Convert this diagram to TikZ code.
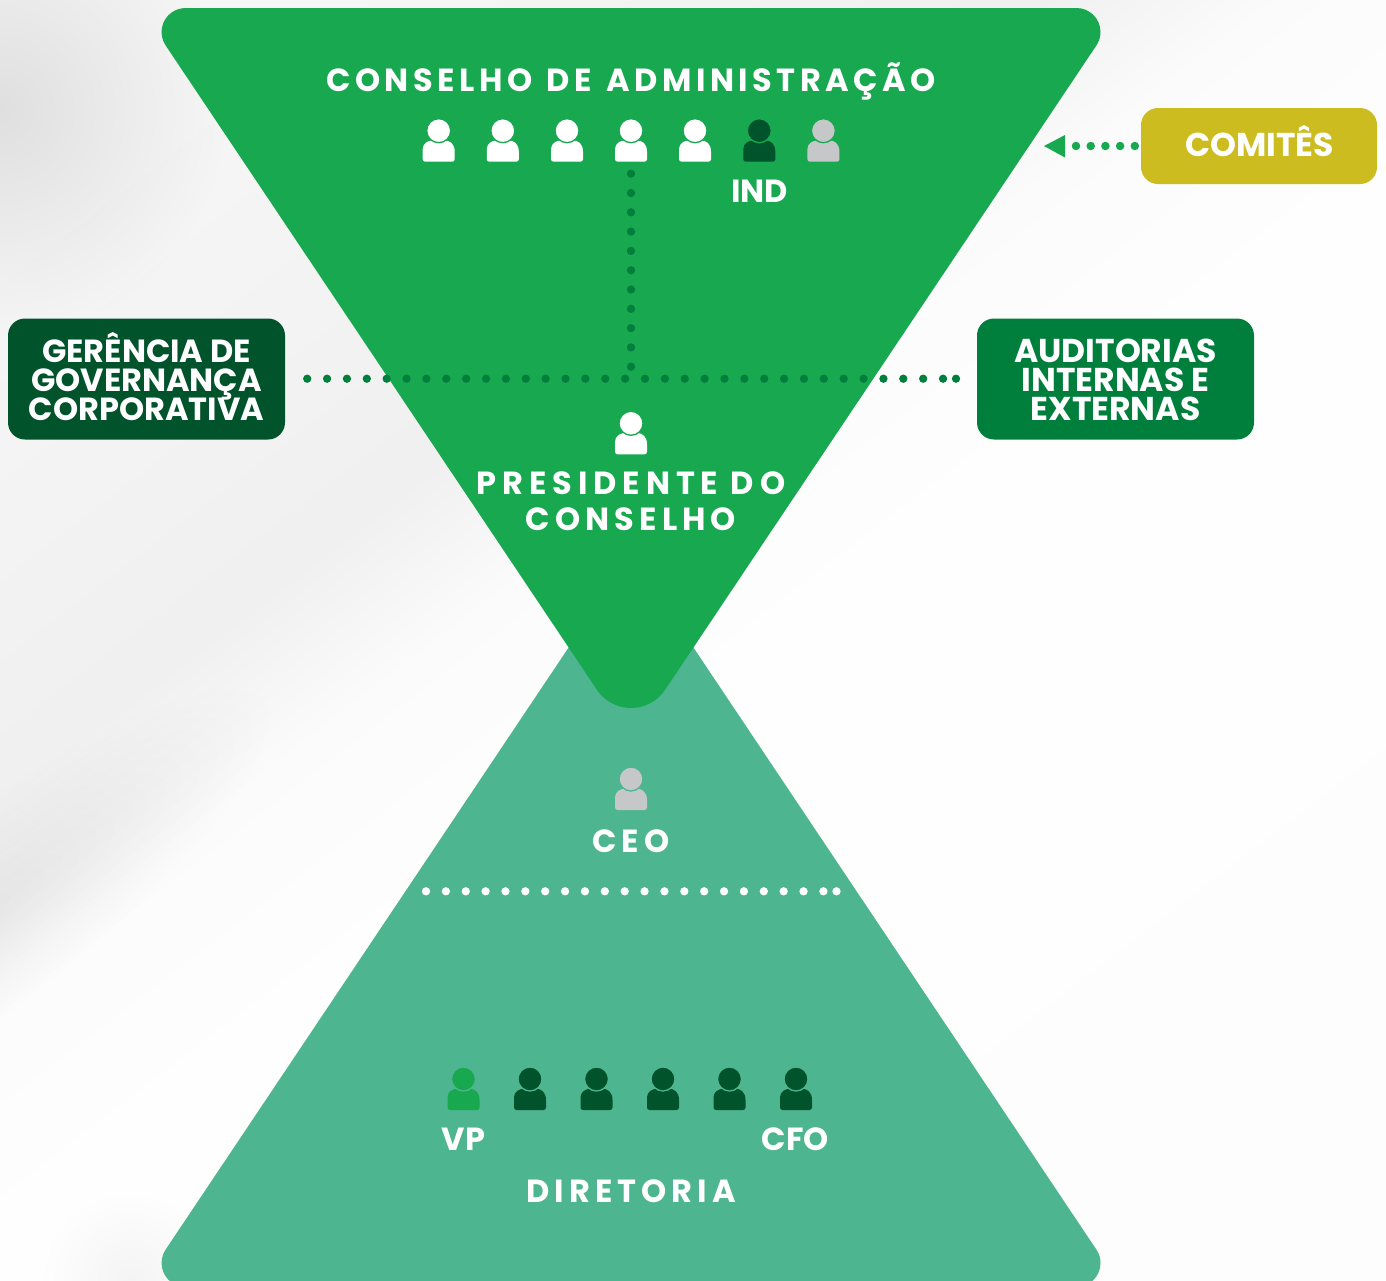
\documentclass[tikz,border=0pt]{standalone}
\usepackage{fontspec}
\setmainfont{Poppins}
\newfontfamily\titlefont[LetterSpace=16]{Poppins}
\newfontfamily\titlefontA[LetterSpace=14,WordSpace=1.3]{Poppins}
\newfontfamily\titlefontB[LetterSpace=18.5]{Poppins}
\usetikzlibrary{calc}
\lineskiplimit=-100pt
\normallineskiplimit=-100pt
\definecolor{gtop}{HTML}{18A850}
\definecolor{glow}{HTML}{4DB590}
\definecolor{gdark}{HTML}{00532B}
\definecolor{gmid}{HTML}{007E3C}
\definecolor{gold}{HTML}{CCBC20}
\definecolor{ggray}{HTML}{C5C7C9}
\pgfdeclarehorizontalshading{bgdiag}{100bp}{
  color(0bp)=(black!3);
  color(30bp)=(black!3.5);
  color(38bp)=(black!5);
  color(42bp)=(black!6);
  color(46bp)=(black!1.5);
  color(52bp)=(black!0.3);
  color(100bp)=(black!1.5)}
\tikzset{
  x=1pt,y=-1pt,
  boxnode/.style={fill=#1,rounded corners=17pt,minimum width=277pt,minimum height=121pt,inner sep=0pt},
  boxtext/.style={text=white,align=center,inner sep=0pt,font=\fontsize{32}{29.3}\selectfont\bfseries},
  titlelabel/.style={text=white,align=center,inner sep=0pt,font=\fontsize{32}{35.5}\titlefont\bfseries},
  shortlabel/.style={text=white,align=center,inner sep=0pt,font=\fontsize{32}{32}\selectfont\bfseries},
  dotline/.style={line width=8.3pt,line cap=round,draw=#1,dash pattern=on 0pt off 19.87pt},
  softspot/.style={blend mode=multiply,inner color=black!#1,outer color=white},
  person/.pic={
    \fill[pic actions,rounded corners=2.5pt] (-16,31) -- (-16,21) [rounded corners=0pt] .. controls (-16,13) and (-11,9.7) .. (-6,9.7)
       -- (6,9.7) .. controls (11,9.7) and (16,13) .. (16,21) [rounded corners=2.5pt] -- (16,31) -- cycle;
    \node[circle,inner sep=0pt,minimum size=24pt,fill,pic actions,draw=personbg,line width=1.3pt] (-head) at (0,0) {};
    \coordinate (-foot) at (0,31);
  },
}
\colorlet{personbg}{gtop}
\begin{document}
\begin{tikzpicture}
\useasboundingbox (0,0) rectangle (1386,1280);
\begin{scope}
\clip (0,0) rectangle (1386,1280);
\begin{scope}[transform canvas={shift={(0,1000)},rotate=-52.6}]
  \shade[shading=bgdiag] (-800,-2600) rectangle (1070,2600);
\end{scope}
\begin{scope}[transform canvas={shift={(-30,925)},rotate=37.4}]
  \shade[softspot=7] (-380,-95) rectangle (380,95);
\end{scope}
\shade[softspot=9] (-230,-120) rectangle (230,340);
\shade[softspot=4] (40,1190) rectangle (220,1370);
\fill[glow] (185.5,1287) -- (1076.5,1287) arc (90:-33.8:24) -- (665.1,605.2) arc (-33.8:-146.2:41) -- (165.6,1249.6) arc (-146.2:-270:24) -- cycle;
\fill[gtop] (185.5,8) -- (1076.5,8) arc (-90:33.8:24) -- (665.1,689.8) arc (33.8:146.2:41) -- (165.6,45.4) arc (146.2:270:24) -- cycle;
\end{scope}

\node[boxnode=gdark] (gov) at (146.5,379) {};
\node[boxtext] (govtext) at (146.5,376.5) {GERÊNCIA DE\\GOVERNANÇA\\CORPORATIVA};
\node[boxnode=gmid] (aud) at (1115.5,379) {};
\node[boxtext,font=\fontsize{33}{29.3}\selectfont\bfseries] (audtext) at (1115.5,380) {AUDITORIAS\\INTERNAS E\\EXTERNAS};
\node[boxnode=gold,minimum width=236pt,minimum height=76pt] (com) at (1259,146) {};
\node[boxtext,font=\fontsize{33}{33}\selectfont\bfseries] (comtext) at (1259.5,141.5) {COMITÊS};

\node[titlelabel,font=\fontsize{32}{35.5}\titlefontA\bfseries] (tconselho) at (631,81.5) {CONSELHO DE ADMINISTRAÇÃO};
\foreach \n/\x/\c in {1/438.7/white,2/502.8/white,3/567/white,4/631/white,5/695/white,6/759.3/gdark,7/823.4/ggray}
  \pic[fill=\c] (p\n) at (\x,130.7) {person};
\node[shortlabel] (tind) at (759.5,191.5) {IND};

\coordinate (junction) at (631,378.7);
\coordinate (hend) at (956,378.7);
\draw[dotline=gmid,shorten <=22pt,shorten >=20pt] (gov.east |- junction) -- (aud.west |- junction);
\fill[gmid] (hend) circle (4.15);
\draw[dotline=gmid,dash pattern=on 0pt off 19.3pt,shorten <=12pt] (p4-foot) -- (junction);

\pic[fill=white] (pres) at (631,423.3) {person};
\node[titlelabel,font=\fontsize{32}{35.5}\titlefontB\bfseries] (tpres) at (631,483.5) {PRESIDENTE DO};
\node[titlelabel] (tpres2) at (631,519) {CONSELHO};

\colorlet{personbg}{glow}
\pic[fill=ggray] (ceo) at (631,779) {person};
\node[titlelabel] (tceo) at (631,841) {CEO};
\coordinate (dl) at (426,891.3);
\coordinate (dr) at (836.5,891.3);
\draw[dotline=white] (dl) -- (dr);
\fill[white] (dr) circle (4.15);
\pic[fill=gtop] (d1) at (463.5,1079) {person};
\foreach \n/\x in {2/530,3/596.5,4/663,5/729.5,6/796}
  \pic[fill=gdark] (d\n) at (\x,1079) {person};
\node[shortlabel] (tvp) at (463.5,1139) {VP};
\node[shortlabel] (tcfo) at (795.5,1139) {CFO};
\node[titlelabel] (tdir) at (631,1191) {DIRETORIA};

\coordinate (arrowtip) at (1044,146);
\coordinate (arrowbase) at (1065,146);
\fill[gtop] (arrowtip) -- (1065,135) -- (1065,157.5) -- cycle;
\draw[line width=8.5pt,line cap=round,draw=gtop,dash pattern=on 0pt off 14.7pt,shorten <=6pt,shorten >=10pt] (com.west) -- (arrowbase);
\end{tikzpicture}
\end{document}
